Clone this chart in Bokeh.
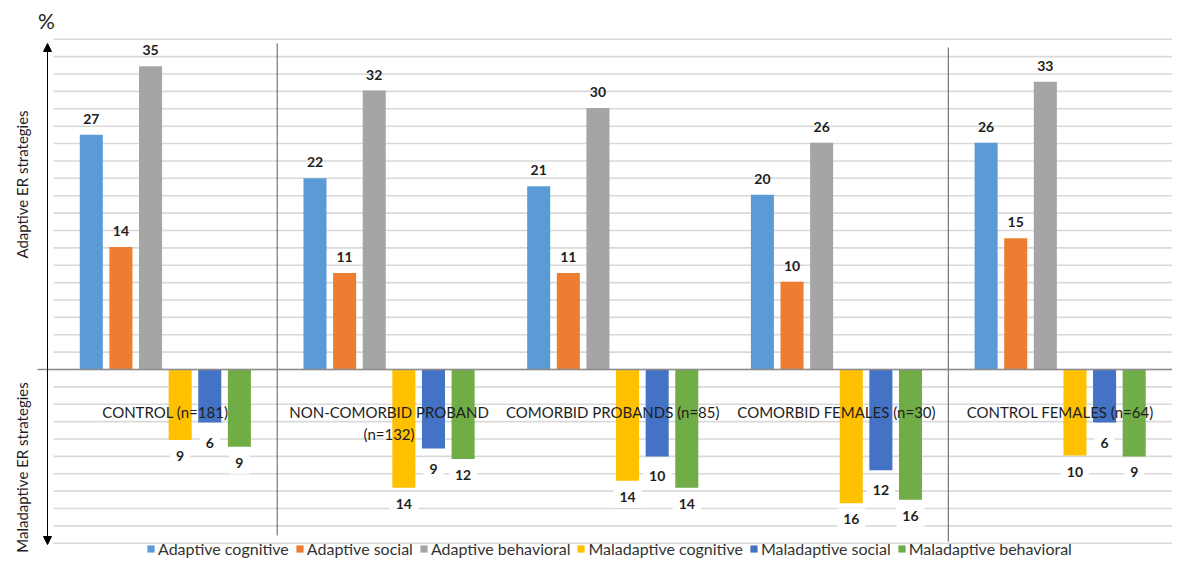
import numpy as np
from bokeh.plotting import figure
from bokeh.models import Range1d, Arrow, NormalHead, Legend, LegendItem
from bokeh.core.properties import value
from bokeh.embed import file_html
from bokeh.resources import INLINE

# ---------------- data ----------------
categories = ["CONTROL (n=181)", "NON-COMORBID PROBAND\n(n=132)", "COMORBID PROBANDS (n=85)",
              "COMORBID FEMALES (n=30)", "CONTROL FEMALES (n=64)"]
series = ["Adaptive cognitive", "Adaptive social", "Adaptive behavioral",
          "Maladaptive cognitive", "Maladaptive social", "Maladaptive behavioral"]
colors = ["#5B9BD5", "#ED7D31", "#A5A5A5", "#FFC000", "#4472C4", "#70AD47"]

# bar lengths (%) as drawn
adaptive_cognitive = [27.0, 22.0, 21.1, 20.1, 26.1]
adaptive_social = [14.1, 11.1, 11.1, 10.1, 15.1]
adaptive_behavioral = [34.9, 32.1, 30.1, 26.1, 33.1]
maladaptive_cognitive = [8.1, 13.6, 12.8, 15.4, 9.9]
maladaptive_social = [6.1, 9.1, 10.0, 11.6, 6.1]
maladaptive_behavioral = [8.9, 10.3, 13.6, 15.0, 10.0]

# printed data labels
adaptive_cognitive_lbl = [27, 22, 21, 20, 26]
adaptive_social_lbl = [14, 11, 11, 10, 15]
adaptive_behavioral_lbl = [35, 32, 30, 26, 33]
maladaptive_cognitive_lbl = [9, 14, 14, 16, 10]
maladaptive_social_lbl = [6, 9, 10, 12, 6]
maladaptive_behavioral_lbl = [9, 12, 14, 16, 9]

grid_ticks = list(range(-20, 39, 2))
separators = [1, 4]

values = [adaptive_cognitive, adaptive_social, adaptive_behavioral,
          maladaptive_cognitive, maladaptive_social, maladaptive_behavioral]
labels = [adaptive_cognitive_lbl, adaptive_social_lbl, adaptive_behavioral_lbl,
          maladaptive_cognitive_lbl, maladaptive_social_lbl, maladaptive_behavioral_lbl]
signs = [1, 1, 1, -1, -1, -1]

# ---------------- figure ----------------
W, H = 1177, 565
PXX = 223.7      # px per category
X0 = 53.0        # px of category 0 start
PXY = 8.69       # px per %
Y0 = 369.0       # px of zero line

def xd(px):
    return (px - X0) / PXX

def yd(py):
    return (Y0 - py) / PXY

p = figure(width=W, height=H, output_backend="svg", toolbar_location=None,
           x_range=Range1d(xd(0), xd(W)), y_range=Range1d(yd(H), yd(0)),
           x_axis_location=None, y_axis_location=None, min_border=0,
           outline_line_color=None, background_fill_color="white")
p.grid.visible = False

TXT = "#1E1E1E"

# gridlines
n_cat = len(categories)
p.segment(x0=[0] * len(grid_ticks), x1=[n_cat] * len(grid_ticks), y0=grid_ticks, y1=grid_ticks,
          line_color="#D9D9D9", line_width=1.6)

# separators
p.segment(x0=separators, x1=separators, y0=[yd(43), yd(47)], y1=[yd(535), yd(541)],
          line_color="#5A5A5A", line_width=1)

# bars
step = 0.1324
bw = 0.103
renderers = []
for k, (name, col, vals, sg) in enumerate(zip(series, colors, values, signs)):
    xs = [i + 0.5 + (k - 2.5) * step for i in range(n_cat)]
    tops = [sg * v if sg > 0 else 0 for v in vals]
    bots = [0 if sg > 0 else sg * v for v in vals]
    r = p.vbar(x=xs, top=tops, bottom=bots, width=bw, fill_color=col, line_color=None)
    renderers.append(r)

# zero line
p.segment(x0=[xd(37)], x1=[n_cat], y0=[0], y1=[0], line_color="#8C8C8C", line_width=1.6)

# category labels
p.text(x=[i + 0.5 for i in range(n_cat)], y=[yd(402)] * n_cat, text=categories,
       text_font=value("Lato"), text_font_size="15px", text_color=TXT,
       text_align="center", text_baseline="top", text_line_height=1.25)

# data labels
for k, (vals, lbls, sg) in enumerate(zip(values, labels, signs)):
    xs = [i + 0.5 + (k - 2.5) * step for i in range(n_cat)]
    ys = [sg * v for v in vals]
    txt = [str(l) for l in lbls]
    if sg > 0:
        p.text(x=xs, y=ys, text=txt, y_offset=-16, text_font=value("Lato"),
               text_font_style="bold", text_font_size="14px", text_color=TXT,
               text_align="center", text_baseline="middle")
    else:
        off = 20 if k == 4 else 16
        p.text(x=xs, y=ys, text=txt, y_offset=off, text_font=value("Lato"),
               text_font_style="bold", text_font_size="14px", text_color=TXT,
               text_align="center", text_baseline="middle",
               background_fill_color="white", padding=6)

# vertical arrow axis
ax = xd(47)
p.add_layout(Arrow(x_start=ax, y_start=yd(544), x_end=ax, y_end=yd(43),
                   line_color="#000000", line_width=1,
                   start=NormalHead(size=8, fill_color="black", line_color="black"),
                   end=NormalHead(size=8, fill_color="black", line_color="black")))

# axis titles
p.text(x=[xd(21), xd(21)], y=[yd(184), yd(467)],
       text=["Adaptive ER strategies", "Maladaptive ER strategies"],
       angle=np.pi / 2, text_font=value("Lato"), text_font_size="15px", text_color=TXT,
       text_align="center", text_baseline="middle")
p.text(x=[xd(46)], y=[yd(20)], text=["%"], text_font=value("Lato"), text_font_size="21px",
       text_color=TXT, text_align="center", text_baseline="middle")

# legend
items = [LegendItem(label=s, renderers=[r]) for s, r in zip(series, renderers)]
legend = Legend(items=items, orientation="horizontal", location=(146, 7), padding=0, margin=0,
                spacing=6, label_standoff=3, glyph_width=9, glyph_height=9,
                label_text_font="Lato", label_text_font_size="16px", label_text_color="#333333",
                label_height=18, background_fill_alpha=0, border_line_color=None)
p.add_layout(legend)

open("out.html", "w").write(file_html(p, INLINE))
